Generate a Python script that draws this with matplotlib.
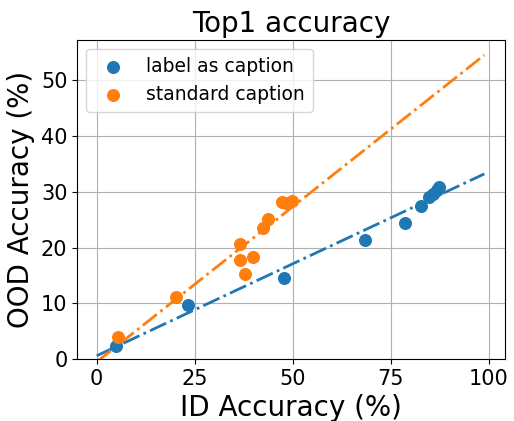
import matplotlib
matplotlib.use("Agg")
import matplotlib.pyplot as plt
import numpy as np

# label as caption
label_x = [4.8, 23.3, 47.8, 68.5, 78.5, 82.7, 84.7, 85.8, 86.8, 87.2]
label_y = [2.4, 9.7, 14.6, 21.4, 24.4, 27.5, 29.1, 29.6, 30.4, 30.8]
# standard caption
std_x = [5.4, 20.2, 36.6, 36.6, 37.8, 39.8, 42.5, 43.7, 47.1, 48.3, 49.9]
std_y = [3.9, 11.1, 20.7, 17.7, 15.3, 18.3, 23.5, 25.2, 28.1, 27.9, 28.3]

# fitted lines (end points)
fit_x = [0, 98.8]
label_fit = [0.6, 33.2]
std_fit = [-0.5, 54.5]

fig, ax = plt.subplots(figsize=(5.14, 4.21), dpi=100)
fig.subplots_adjust(left=0.15, right=0.982, top=0.905, bottom=0.147)

ax.scatter(label_x, label_y, s=70, color="tab:blue", label="label as caption", zorder=3)
ax.scatter(std_x, std_y, s=70, color="tab:orange", label="standard caption", zorder=3)
ax.plot(fit_x, label_fit, "-.", color="tab:blue", lw=2)
ax.plot(fit_x, std_fit, "-.", color="tab:orange", lw=2)

ax.set_xlim(-5, 104)
ax.set_ylim(0, 57.2)
ax.set_xticks([0, 25, 50, 75, 100])
ax.set_yticks([0, 10, 20, 30, 40, 50])
ax.tick_params(labelsize=15)
ax.grid(True)
ax.set_axisbelow(True)
ax.set_title("Top1 accuracy", fontsize=20)
ax.set_xlabel("ID Accuracy (%)", fontsize=20)
ax.set_ylabel("OOD Accuracy (%)", fontsize=20)
ax.legend(loc="upper left", fontsize=13.5)

fig.savefig("out.png")
